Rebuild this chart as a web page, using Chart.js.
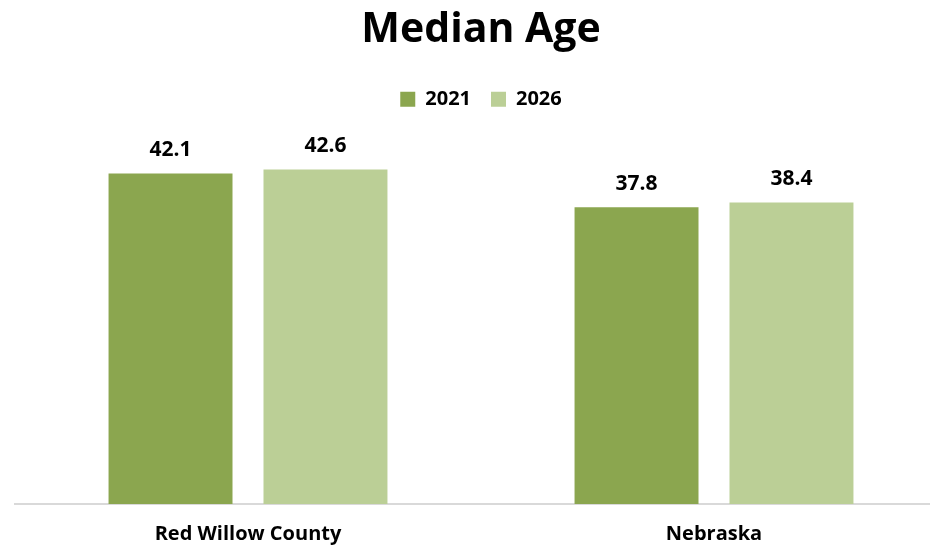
<!DOCTYPE html>
<html>
<head>
<meta charset="utf-8">
<title>Median Age</title>
<script src="https://cdn.jsdelivr.net/npm/chart.js@4"></script>
<style>
  html, body { margin: 0; padding: 0; background: #fff; overflow: hidden; }
  #wrap { position: relative; width: 962px; height: 564px; }
</style>
</head>
<body>
<div id="wrap"><canvas id="chart"></canvas></div>
<script>
'use strict';

// ── Data ─────────────────────────────────────────────────────
const places = ['Red Willow County', 'Nebraska'];
const years = ['2021', '2026'];
const age2021 = [42.1, 37.8];
const age2026 = [42.6, 38.4];

const FONT = '"Open Sans", Lato, sans-serif';

// ── Value labels above each bar ──────────────────────────────
const barValues = {
  id: 'barValues',
  afterDatasetsDraw(chart) {
    const ctx = chart.ctx;
    ctx.save();
    ctx.font = `bold 21px ${FONT}`;
    ctx.fillStyle = '#000';
    ctx.textAlign = 'center';
    ctx.textBaseline = 'bottom';
    chart.data.datasets.forEach((ds, i) => {
      chart.getDatasetMeta(i).data.forEach((bar, j) => {
        ctx.fillText(ds.data[j].toFixed(1), bar.x, bar.y - 13);
      });
    });
    ctx.restore();
  }
};

new Chart(document.getElementById('chart'), {
  type: 'bar',
  data: {
    labels: places,
    datasets: [
      { label: years[0], data: age2021, backgroundColor: '#8BA64F' },
      { label: years[1], data: age2026, backgroundColor: '#BBCF96' }
    ]
  },
  options: {
    responsive: true,
    maintainAspectRatio: false,
    animation: false,
    layout: { padding: { left: 15, right: 15, top: 6, bottom: 0 } },
    datasets: { bar: { categoryPercentage: 0.665, barPercentage: 0.8 } },
    scales: {
      x: {
        grid: { display: false, drawTicks: false },
        border: { color: '#D9D9D9', width: 2 },
        ticks: { color: '#000', font: { family: FONT, size: 20, weight: 'bold' }, padding: 18 }
      },
      y: { display: false, min: 0, max: 49 }
    },
    plugins: {
      title: {
        display: true,
        text: 'Median Age',
        color: '#000',
        font: { family: FONT, size: 41, weight: 'bold' },
        padding: { top: 0, bottom: 14 }
      },
      legend: {
        position: 'top',
        labels: {
          color: '#000',
          boxWidth: 15,
          boxHeight: 15,
          padding: 20,
          font: { family: FONT, size: 20, weight: 'bold' }
        }
      },
      tooltip: { enabled: false }
    }
  },
  plugins: [barValues]
});
</script>
</body>
</html>
